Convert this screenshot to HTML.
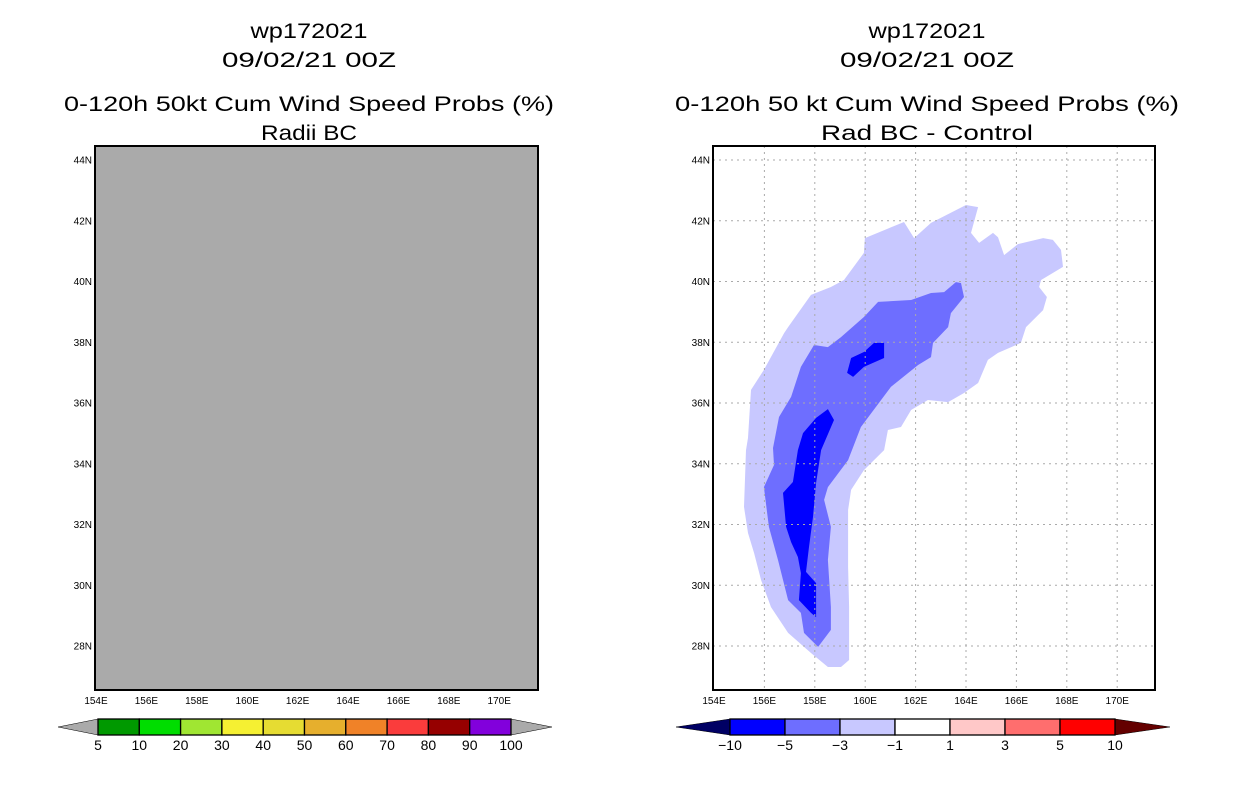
<!DOCTYPE html>
<html><head><meta charset="utf-8"><style>
body{margin:0;background:#fff}
svg text{font-family:"Liberation Sans",sans-serif}
</style></head><body>
<svg id="s" width="1236" height="800" viewBox="0 0 1236 800"></svg>
<script>
const lonTicks=[154,156,158,160,162,164,166,168,170];
const latTicks=[28,30,32,34,36,38,40,42,44];
const leftBins=["5","10","20","30","40","50","60","70","80","90","100"];
const leftColors=["#009900","#00dd00","#a0e632","#f5f032","#e6dc32","#e6af2d","#f08228","#fa3c3c","#960000","#8200dc"];
const rightBins=["-10","-5","-3","-1","1","3","5","10"];
const rightColors=["#0000ff","#6e6eff","#c8c8ff","#ffffff","#ffc8c8","#ff6e6e","#ff0000"];
const lightLon=[159.99,161.54,161.94,162.61,164.00,164.48,164.20,164.52,165.07,165.27,165.51,166.06,167.06,167.45,167.77,167.85,166.98,166.90,167.21,167.06,166.38,166.18,165.27,164.87,164.48,163.92,163.29,162.49,161.82,161.42,160.90,160.75,159.95,159.44,159.32,159.32,159.36,159.36,159.04,158.52,157.85,156.94,156.26,155.87,155.59,155.35,155.19,155.27,155.35,155.47,155.98,156.78,156.94,157.85,158.64,159.16,159.95];
const lightLat=[41.43,41.96,41.43,41.93,42.52,42.45,41.60,41.27,41.60,41.46,40.87,41.23,41.43,41.37,41.04,40.48,40.05,39.82,39.49,39.06,38.50,37.98,37.65,37.42,36.66,36.33,36.03,36.10,35.77,35.21,35.11,34.45,33.79,33.14,32.48,30.60,29.28,27.54,27.31,27.31,27.77,28.43,29.28,30.17,31.06,31.72,32.58,34.45,34.85,36.43,37.09,38.30,38.50,39.56,39.82,40.05,40.94];
const medLon=[163.60,163.80,163.92,163.40,163.29,162.69,162.61,162.10,161.02,160.63,159.83,159.32,158.52,158.37,158.64,158.52,158.64,158.64,158.13,157.57,157.45,156.94,156.54,156.18,155.98,156.38,156.34,156.58,157.06,157.45,157.97,158.52,159.04,159.95,160.51,161.82,162.61,163.13];
const medLat=[39.98,39.95,39.49,38.96,38.50,37.98,37.51,37.25,36.53,36.10,35.21,34.12,33.23,32.81,31.92,30.83,29.28,28.53,27.97,28.43,29.09,29.51,30.83,31.92,33.23,33.96,34.52,35.54,36.20,37.19,37.91,37.84,38.17,38.83,39.33,39.39,39.62,39.65];
const dark1Lon=[160.75,160.75,159.95,159.52,159.28,159.44,159.95,160.35];
const dark1Lat=[37.98,37.48,37.19,36.86,36.99,37.48,37.68,37.98];
const dark2Lon=[158.52,158.76,158.25,158.05,157.93,157.77,157.65,158.05,158.05,157.85,157.37,157.45,157.33,157.06,156.86,156.74,157.13,157.33,157.53,158.05];
const dark2Lat=[35.80,35.44,34.45,33.37,32.25,31.26,30.44,30.07,28.95,29.09,29.51,30.40,30.93,31.42,31.92,33.04,33.40,34.45,35.01,35.51];

const S=document.getElementById('s');const NS='http://www.w3.org/2000/svg';
function mk(t,a,p){const e=document.createElementNS(NS,t);for(const k in a)e.setAttribute(k,a[k]);(p||S).appendChild(e);return e;}
const Y0=146,Y1=690;
function ly(lat){return 160+(44-lat)*30.375;}
function lxL(lon){return 96+(lon-154)*25.2;}
function lxR(lon){return 714+(lon-154)*25.2;}

function titles(cx,l3,l4,w3,w4,pre){
  const L=[["wp172021",38,117],["09/02/21 00Z",67,174],[l3,111,w3],[l4,140,w4]];
  L.forEach((t,i)=>{const e=mk('text',{x:cx,y:t[1],'text-anchor':'middle','font-size':21,fill:'#000',textLength:t[2],lengthAdjust:'spacingAndGlyphs'});e.textContent=t[0];
  
  });
}
titles(309,"0-120h 50kt Cum Wind Speed Probs (%)","Radii BC",490,96,"left");
titles(927,"0-120h 50 kt Cum Wind Speed Probs (%)","Rad BC - Control",504,212,"right");

let r=mk('rect',{x:95,y:Y0,width:443,height:Y1-Y0,fill:'#aaaaaa',stroke:'#000','stroke-width':2});



const g=mk('g',{});


mk('rect',{x:713,y:Y0,width:442,height:Y1-Y0,fill:'#fff'},g);
function poly(lons,lats,fill,name){const pts=lons.map((l,i)=>lxR(l).toFixed(1)+','+ly(lats[i]).toFixed(1)).join(' ');
  const p=mk('polygon',{points:pts,fill:fill},g);
  
  }
poly(lightLon,lightLat,'#c8c8ff','contour-minus1-to-minus3');
poly(medLon,medLat,'#6e6eff','contour-minus3-to-minus5');
poly(dark1Lon,dark1Lat,'#0000ff','contour-minus5-north');
poly(dark2Lon,dark2Lat,'#0000ff','contour-minus5-south');
lonTicks.forEach(l=>{if(l>154){const x=lxR(l);const ln=mk('line',{x1:x,x2:x,y1:Y0,y2:Y1,stroke:'#aaa','stroke-dasharray':'2,4'},g);
  
  }});
latTicks.forEach(l=>{const y=ly(l);const ln=mk('line',{x1:713,x2:1155,y1:y,y2:y,stroke:'#aaa','stroke-dasharray':'2,4'},g);
  
  });
mk('rect',{x:713,y:Y0,width:442,height:Y1-Y0,fill:'none',stroke:'#000','stroke-width':2},g);

function axes(lx,x0,pre){
  lonTicks.forEach(l=>{const t=mk('text',{x:lx(l),y:704,'text-anchor':'middle','font-size':10});t.textContent=l+'E';
    
    });
  latTicks.forEach(l=>{const t=mk('text',{x:x0-3,y:ly(l)+3.5,'text-anchor':'end','font-size':10});t.textContent=l+'N';
    
    });
}
axes(lxL,95,'left');axes(lxR,713,'right');

function cbar(x0,x1,tl,tr,cols,labs,lc,rc,pre){
  const n=cols.length,w=(x1-x0)/n,y=719,h=16;
  const a=mk('polygon',{points:`${tl},${y+h/2} ${x0},${y} ${x0},${y+h}`,fill:lc,stroke:'#000','stroke-width':0.5});
  
  
  const b=mk('polygon',{points:`${tr},${y+h/2} ${x1},${y} ${x1},${y+h}`,fill:rc,stroke:'#000','stroke-width':0.5});
  
  
  cols.forEach((c,i)=>{const rr=mk('rect',{x:x0+i*w,y:y,width:w,height:h,fill:c,stroke:'#000','stroke-width':1.3});
    
    });
  labs.forEach((s,i)=>{const t=mk('text',{x:x0+i*w,y:750,'text-anchor':'middle','font-size':14});t.textContent=s.replace('-','\u2212');
    
    });
}
cbar(98,511,58,552,leftColors,leftBins,'#aaaaaa','#aaaaaa','left');
cbar(730,1115,676,1170,rightColors,rightBins,'#000064','#640000','right');
</script>
</body></html>
